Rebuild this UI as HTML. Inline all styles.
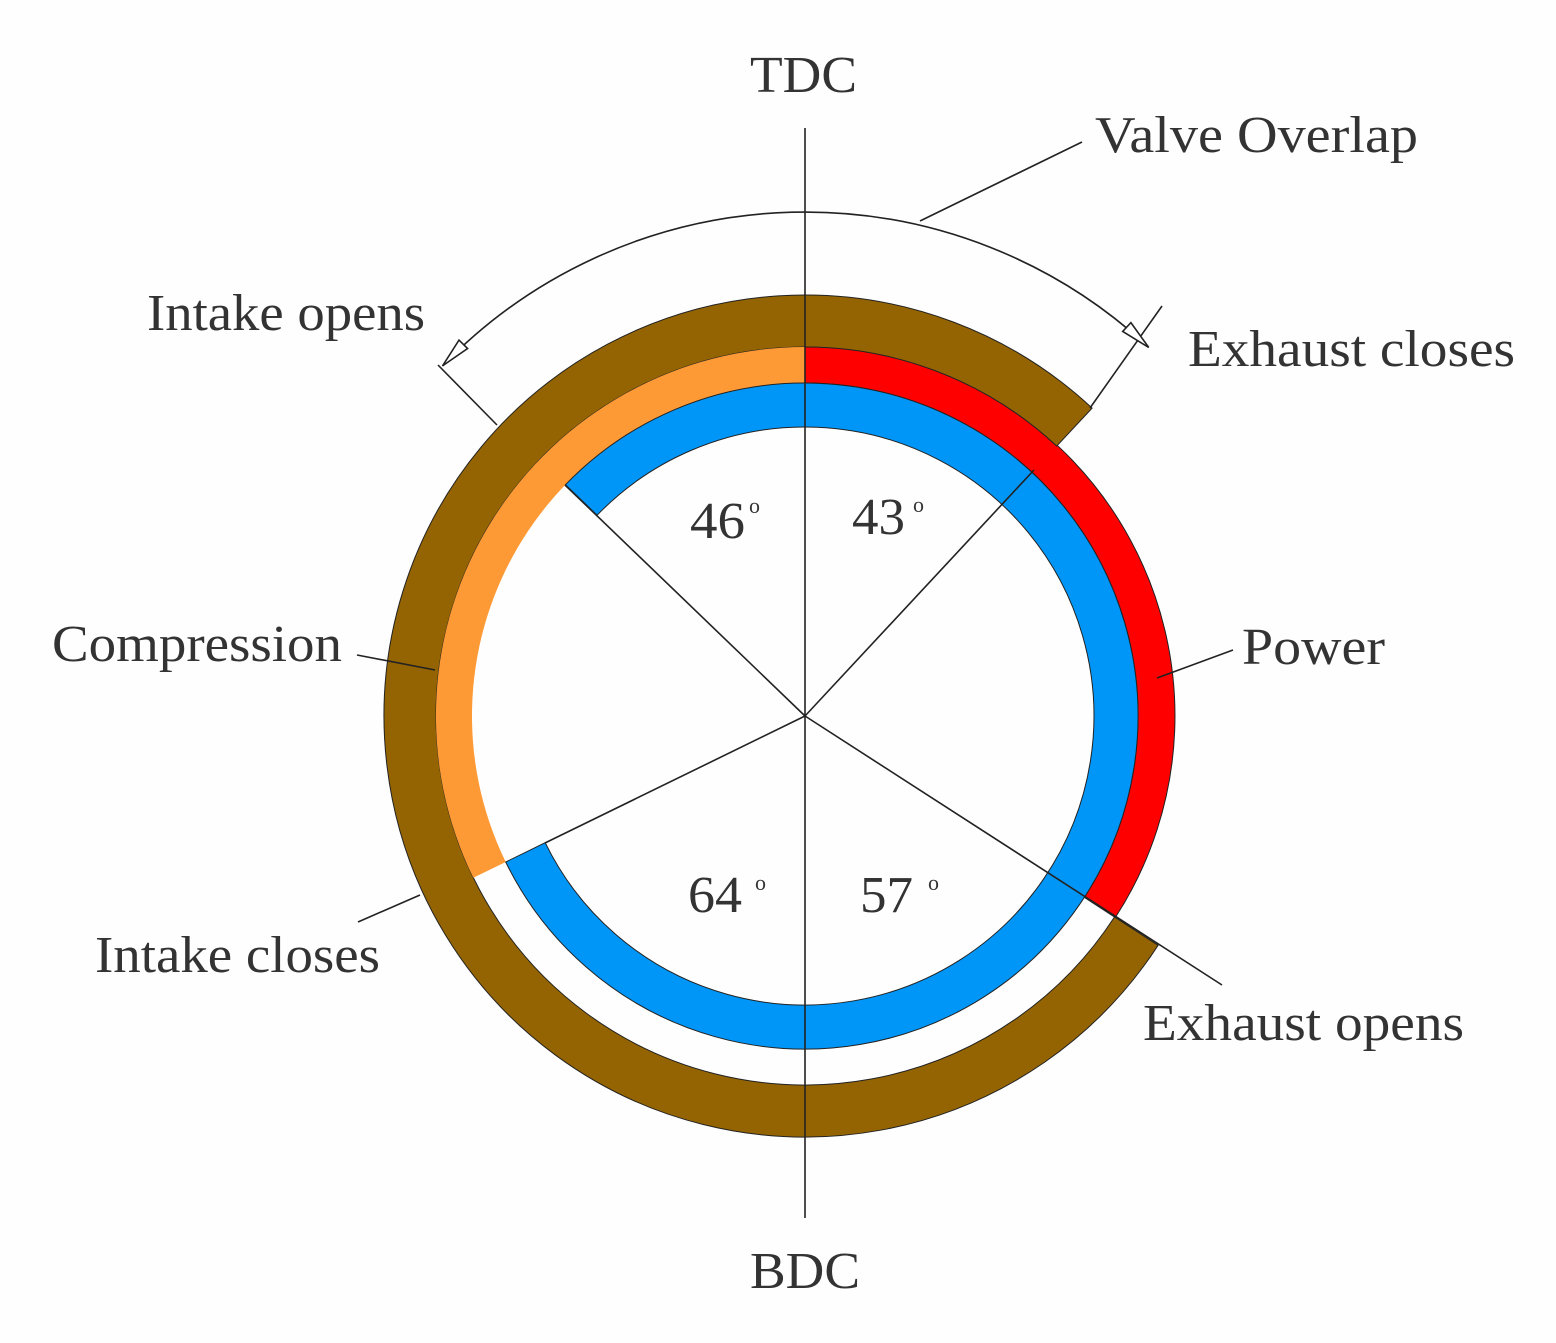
<!DOCTYPE html>
<html><head><meta charset="utf-8"><style>
html,body{margin:0;padding:0;background:#fff}
svg{display:block}
text{font-family:"Liberation Serif",serif;fill:#333}
</style></head><body>
<svg width="1556" height="1343" viewBox="0 0 1556 1343" xmlns="http://www.w3.org/2000/svg">
<rect width="1556" height="1343" fill="#fefefe"/>
<path d="M805,346 A370,370 0 0 1 1115.3,917.5 L1084.3,897.4 A333,333 0 0 0 805,383 Z" fill="#ff0000" stroke="#222" stroke-width="1"/>
<path d="M1158.1,945.3 A421,421 0 1 1 1092.1,408.1 L1056.7,446.1 A369,369 0 1 0 1114.5,917 Z" fill="#946403" stroke="#222" stroke-width="1"/>
<path d="M473.3,877.8 A369,369 0 0 1 805,347 L805,383 A333,333 0 0 0 505.7,862 Z" fill="#fd9a35"/>
<path d="M565.5,484.7 A333,333 0 1 1 505.7,862 L545.2,842.7 A289,289 0 1 0 597.1,515.2 Z" fill="#0096f8" stroke="#222" stroke-width="1"/>
<g stroke="#222" stroke-width="1.6" fill="none">
<line x1="805" y1="128" x2="805" y2="1218"/>
<line x1="805" y1="716" x2="565" y2="485"/>
<line x1="497" y1="425" x2="438" y2="365"/>
<line x1="805" y1="716" x2="1034" y2="470"/>
<line x1="1090" y1="408" x2="1162" y2="306"/>
<line x1="805" y1="716" x2="1222" y2="985"/>
<line x1="805" y1="716" x2="545" y2="843"/>
<line x1="358" y1="922" x2="420" y2="895"/>
<line x1="357" y1="655" x2="435" y2="670"/>
<line x1="1157" y1="678" x2="1233" y2="650"/>
<line x1="920" y1="221" x2="1082" y2="142"/>
<path d="M442.5,365.9 A504,504 0 0 1 1148.7,347.4"/>
</g>
<polygon points="442.5,365.9 467.6,348.5 459,340.1" fill="#fff" stroke="#222" stroke-width="1.6"/>
<polygon points="1148.7,347.4 1122.7,331.4 1130.9,322.6" fill="#fff" stroke="#222" stroke-width="1.6"/>
<g font-size="52">
<text x="750" y="92" textLength="107" lengthAdjust="spacingAndGlyphs">TDC</text>
<text x="750" y="1288" textLength="110" lengthAdjust="spacingAndGlyphs">BDC</text>
<text x="1095" y="152" textLength="323" lengthAdjust="spacingAndGlyphs">Valve Overlap</text>
<text x="147" y="330" textLength="278" lengthAdjust="spacingAndGlyphs">Intake opens</text>
<text x="1188" y="366" textLength="327" lengthAdjust="spacingAndGlyphs">Exhaust closes</text>
<text x="52" y="661" textLength="290" lengthAdjust="spacingAndGlyphs">Compression</text>
<text x="1242" y="664" textLength="143" lengthAdjust="spacingAndGlyphs">Power</text>
<text x="95" y="972" textLength="285" lengthAdjust="spacingAndGlyphs">Intake closes</text>
<text x="1143" y="1040" textLength="321" lengthAdjust="spacingAndGlyphs">Exhaust opens</text>
<text x="690" y="538" textLength="55" lengthAdjust="spacingAndGlyphs">46</text>
<text x="852" y="534" textLength="53" lengthAdjust="spacingAndGlyphs">43</text>
<text x="688" y="912" textLength="54" lengthAdjust="spacingAndGlyphs">64</text>
<text x="860" y="912" textLength="53" lengthAdjust="spacingAndGlyphs">57</text>
</g>
<g font-size="22">
<text x="749" y="513">o</text>
<text x="913" y="512">o</text>
<text x="755" y="890">o</text>
<text x="928" y="890">o</text>
</g>
</svg>
</body></html>
